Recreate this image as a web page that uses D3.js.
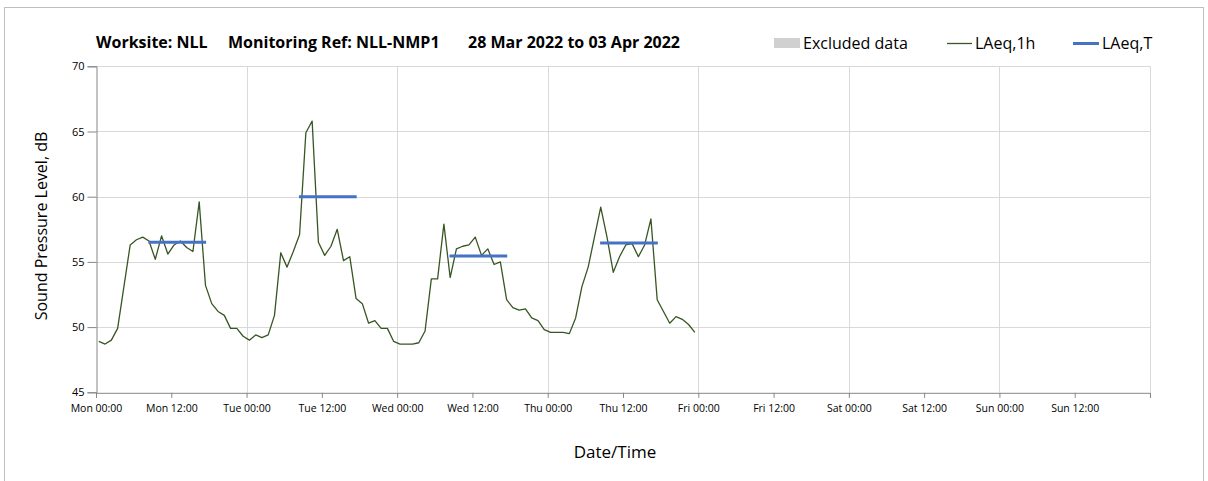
<!DOCTYPE html>
<html><head><meta charset="utf-8">
<script src="https://cdn.jsdelivr.net/npm/d3@7"></script>
<style>body{margin:0;background:#fff} svg{display:block} text{font-family:"Open Sans","Noto Sans",sans-serif;fill:#000}</style>
</head><body><svg id="c" width="1208" height="481"></svg>
<script>
// ---- data ----
const seriesStart = "2022-03-28T00:27:00";   // first hourly LAeq,1h value
const laeq1h = [
  48.9,48.7,49.0,49.9,53.1,56.3,56.7,56.9,56.6,55.2,57.0,55.6,56.3,56.6,56.1,55.8,59.6,53.2,51.8,51.2,50.9,49.9,49.9,49.3,
  49.0,49.4,49.2,49.4,50.9,55.7,54.6,55.8,57.1,64.9,65.8,56.5,55.5,56.2,57.5,55.1,55.4,52.2,51.8,50.3,50.5,49.9,49.9,48.9,
  48.7,48.7,48.7,48.8,49.7,53.7,53.7,57.9,53.8,56.0,56.2,56.3,56.9,55.5,56.0,54.8,55.0,52.1,51.5,51.3,51.4,50.7,50.5,49.8,
  49.6,49.6,49.6,49.5,50.7,53.1,54.6,56.9,59.2,56.9,54.2,55.4,56.3,56.4,55.4,56.3,58.3,52.1,51.2,50.3,50.8,50.6,50.2,49.6
];
const periodDays = ["2022-03-28","2022-03-29","2022-03-30","2022-03-31"];
const periodFrom = "08:21", periodTo = "17:33";
const laeqT = [56.5, 60.0, 55.45, 56.45];
const yTicks = [45, 50, 55, 60, 65, 70];
const xStart = "2022-03-28T00:00:00", xEnd = "2022-04-04T00:00:00";
const xTickLabels = ["Mon 00:00","Mon 12:00","Tue 00:00","Tue 12:00","Wed 00:00","Wed 12:00","Thu 00:00","Thu 12:00","Fri 00:00","Fri 12:00","Sat 00:00","Sat 12:00","Sun 00:00","Sun 12:00"];
const titleParts = ["Worksite: NLL", "Monitoring Ref: NLL-NMP1", "28 Mar 2022 to 03 Apr 2022"];
const legendLabels = ["Excluded data", "LAeq,1h", "LAeq,T"];

// ---- layout ----
const svg = d3.select("#c");
const L = 96, R = 1150, T = 66.3, B = 392.3;
const x = d3.scaleTime().domain([new Date(xStart), new Date(xEnd)]).range([L, R]);
const y = d3.scaleLinear().domain([45, 70]).range([B, T]);
const t0 = new Date(seriesStart);
const pts = laeq1h.map((v, i) => ({t: d3.timeHour.offset(t0, i), v}));

// chart border
svg.append("rect").attr("x", 4.5).attr("y", 7.5).attr("width", 1199).attr("height", 480)
  .attr("fill", "none").attr("stroke", "#bfbfbf").attr("stroke-width", 1);

// gridlines
const gridY = svg.append("g");
yTicks.filter(d => d > 45).forEach(d => {
  gridY.append("line").attr("x1", L).attr("x2", R).attr("y1", Math.round(y(d)) + 0.5).attr("y2", Math.round(y(d)) + 0.5)
    .attr("stroke", "#d9d9d9").attr("stroke-width", 1);
});
const dayTicks = d3.timeDay.range(new Date(xStart), d3.timeHour.offset(new Date(xEnd), 1)).slice(1);
dayTicks.forEach(d => {
  svg.append("line").attr("x1", Math.round(x(d)) + 0.5).attr("x2", Math.round(x(d)) + 0.5).attr("y1", T).attr("y2", B)
    .attr("stroke", "#d9d9d9").attr("stroke-width", 1);
});

// y axis
const yAx = svg.append("g").attr("transform", `translate(${L + 0.5},0)`)
  .call(d3.axisLeft(y).tickValues(yTicks).tickSize(9).tickPadding(3).tickFormat(d3.format("d")));
yAx.select(".domain").attr("stroke", "#868686");
yAx.selectAll(".tick line").attr("stroke", "#868686");
yAx.selectAll("text").attr("font-size", 11).attr("fill", "#000").style("font-family", '"Open Sans",sans-serif');

// x axis
const xTickVals = d3.timeHour.every(12).range(new Date(xStart), d3.timeHour.offset(new Date(xEnd), 1));
const xAx = svg.append("g").attr("transform", `translate(0,${B + 0.5})`)
  .call(d3.axisBottom(x).tickValues(xTickVals).tickSize(5).tickPadding(7)
    .tickFormat((d, i) => xTickLabels[i] || ""));
xAx.select(".domain").attr("stroke", "#868686");
xAx.selectAll(".tick line").attr("stroke", "#868686");
xAx.selectAll("text").attr("font-size", 10.5).attr("fill", "#000").style("font-family", '"Open Sans",sans-serif');

// LAeq,1h line
svg.append("path").datum(pts)
  .attr("d", d3.line().x(d => x(d.t)).y(d => y(d.v)))
  .attr("fill", "none").attr("stroke", "#375623").attr("stroke-width", 1.3).attr("stroke-linejoin", "round");

// LAeq,T segments
periodDays.forEach((day, i) => {
  const a = new Date(`${day}T${periodFrom}:00`), b = new Date(`${day}T${periodTo}:00`);
  svg.append("line").attr("x1", x(a)).attr("x2", x(b)).attr("y1", y(laeqT[i])).attr("y2", y(laeqT[i]))
    .attr("stroke", "#4472c4").attr("stroke-width", 3);
});

// axis titles
svg.append("text").attr("transform", `translate(47,226) rotate(-90)`).attr("text-anchor", "middle")
  .attr("font-size", 16).text("Sound Pressure Level, dB");
svg.append("text").attr("x", 615).attr("y", 457.5).attr("text-anchor", "middle")
  .attr("font-size", 17).text("Date/Time");

// title
const titleX = [96, 228, 468];
titleParts.forEach((t, i) => {
  svg.append("text").attr("x", titleX[i]).attr("y", 48).attr("font-size", 16).attr("font-weight", "bold").text(t);
});

// legend
const lg = svg.append("g");
lg.append("rect").attr("x", 774).attr("y", 38).attr("width", 26).attr("height", 10).attr("fill", "#d0d0d0");
lg.append("text").attr("x", 803).attr("y", 49).attr("font-size", 16).text(legendLabels[0]);
lg.append("line").attr("x1", 947).attr("x2", 972).attr("y1", 43.5).attr("y2", 43.5).attr("stroke", "#375623").attr("stroke-width", 1.3);
lg.append("text").attr("x", 975).attr("y", 49).attr("font-size", 16).text(legendLabels[1]);
lg.append("line").attr("x1", 1073).attr("x2", 1099).attr("y1", 43.5).attr("y2", 43.5).attr("stroke", "#4472c4").attr("stroke-width", 3);
lg.append("text").attr("x", 1102).attr("y", 49).attr("font-size", 16).text(legendLabels[2]);
</script></body></html>
